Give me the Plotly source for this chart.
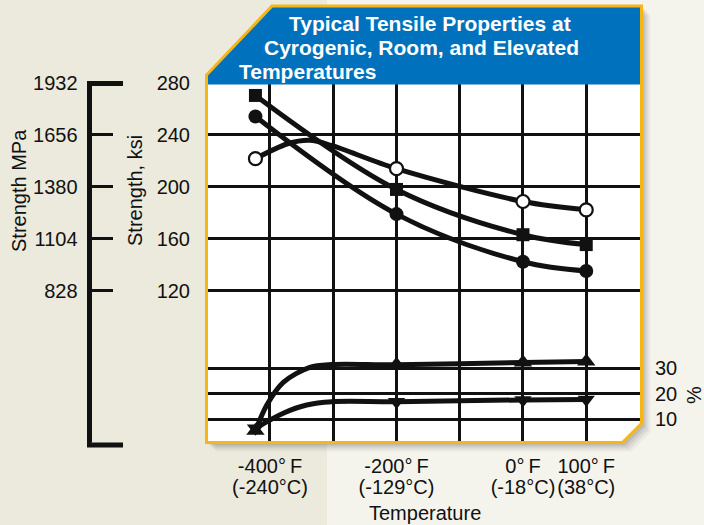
import plotly.graph_objects as go

# ---------------- data ----------------
temp_F = [-423, -200, 0, 100]
ksi_open = [221.7, 214.0, 188.7, 182.3]
ksi_square = [270.4, 198.0, 163.1, 155.5]
ksi_filled = [254.2, 179.0, 142.3, 135.2]
elong_up = [5.5, 31.4, 32.3, 32.7]
elong_down = [6.5, 16.9, 17.6, 17.8]

# points
curve_open_T = [-423, -372, -337, -303, -200, 0, 100]
curve_open_ksi = [221.7, 233.2, 235.8, 231.9, 214.0, 188.7, 182.3]
curve_up_T = [-423, -405, -379, -337, -302, -200, 0, 100]
curve_up_pct = [5.5, 15.6, 24.5, 30.4, 31.5, 31.4, 32.3, 32.7]
curve_down_T = [-423, -379, -342, -302, -200, 0, 100]
curve_down_pct = [6.5, 12.4, 15.6, 16.9, 16.9, 17.6, 17.8]

x_ticks = [-400, -300, -200, -100, 0, 100]
x_text_F = ["-400°\u2009F", "", "-200°\u2009F", "", "0°\u2009F", "100°\u2009F"]
x_text_C = ["(-240°C)", "", "(-129°C)", "", "(-18°C)", "(38°C)"]
ksi_ticks = [120, 160, 200, 240, 280]
mpa_ticks = [828, 1104, 1380, 1656, 1932]
pct_ticks = [10, 20, 30]

W, H = 704, 525
FONT = "Liberation Sans, Arial, sans-serif"
INK = "#111111"
BLUE = "#0071BC"
YELLOW = "#F7B518"

def px(x):
    return x / W

def py(y):
    return 1 - y / H

def path(pts):
    s = "M " + " L ".join(f"{px(a):.5f},{py(b):.5f}" for a, b in pts) + " Z"
    return s

KSI_RANGE = [3.4, 280]
fig = go.Figure()

LW = 5
fig.add_trace(go.Scatter(x=curve_open_T, y=curve_open_ksi, mode="lines",
                         line=dict(color=INK, width=LW, shape="spline", smoothing=0.9),
                         showlegend=False, hoverinfo="skip"))
fig.add_trace(go.Scatter(x=temp_F, y=ksi_square, mode="lines+markers",
                         line=dict(color=INK, width=LW, shape="spline", smoothing=1.0),
                         marker=dict(symbol="square", size=13, color=INK),
                         showlegend=False))
fig.add_trace(go.Scatter(x=temp_F, y=ksi_filled, mode="lines+markers",
                         line=dict(color=INK, width=LW, shape="spline", smoothing=1.0),
                         marker=dict(symbol="circle", size=14, color=INK),
                         showlegend=False))
fig.add_trace(go.Scatter(x=temp_F, y=ksi_open, mode="markers",
                         marker=dict(symbol="circle", size=13, color="white",
                                     line=dict(color=INK, width=2.2)),
                         showlegend=False))
fig.add_trace(go.Scatter(x=curve_up_T, y=curve_up_pct, mode="lines", yaxis="y2",
                         line=dict(color=INK, width=LW, shape="spline", smoothing=0.9),
                         showlegend=False, hoverinfo="skip"))
fig.add_trace(go.Scatter(x=curve_down_T, y=curve_down_pct, mode="lines", yaxis="y2",
                         line=dict(color=INK, width=LW, shape="spline", smoothing=0.9),
                         showlegend=False, hoverinfo="skip"))
fig.add_trace(go.Scatter(x=temp_F, y=elong_up, mode="markers", yaxis="y2",
                         marker=dict(symbol="triangle-up", size=16, color=INK),
                         showlegend=False))
fig.add_trace(go.Scatter(x=temp_F, y=elong_down, mode="markers", yaxis="y2",
                         marker=dict(symbol="triangle-down", size=15, color=INK),
                         showlegend=False))
# MPa scale uses the same data converted (invisible, only to host the axis)
fig.add_trace(go.Scatter(x=temp_F, y=[v * 6.9 for v in ksi_square], mode="markers",
                         yaxis="y3", marker=dict(opacity=0), showlegend=False,
                         hoverinfo="skip"))
fig.add_trace(go.Scatter(x=temp_F, y=ksi_square, mode="markers", xaxis="x2",
                         marker=dict(opacity=0), showlegend=False, hoverinfo="skip"))

XD = [px(208), px(640)]
YD = [py(442), py(83)]
tickfont = dict(family=FONT, size=20, color=INK)

fig.update_layout(
    width=W, height=H,
    margin=dict(l=0, r=0, t=0, b=0),
    template="none",
    paper_bgcolor="#EBEADC",
    plot_bgcolor="rgba(0,0,0,0)",
    showlegend=False,
    font=dict(family=FONT, size=20, color=INK),
    xaxis=dict(domain=XD, range=[-498, 185], tickvals=x_ticks, ticktext=x_text_F,
               showgrid=True, gridcolor=INK, gridwidth=3, zeroline=False,
               showline=False, ticks="", tickfont=tickfont, ticklabelstandoff=10,
               tickangle=0, anchor="y", automargin=False, fixedrange=True),
    xaxis2=dict(domain=XD, matches="x", overlaying="x", anchor="y", side="bottom",
                tickvals=x_ticks, ticktext=x_text_C, showgrid=False, zeroline=False,
                showline=False, ticks="", tickfont=tickfont, ticklabelstandoff=31,
                tickangle=0, automargin=False),
    yaxis=dict(domain=YD, range=KSI_RANGE, tickvals=ksi_ticks,
               ticktext=[str(v) for v in ksi_ticks],
               showgrid=True, gridcolor=INK, gridwidth=3, zeroline=False,
               showline=False, ticks="", tickfont=tickfont, ticklabelstandoff=17,
               anchor="x", automargin=False),
    yaxis2=dict(domain=YD, range=[1.1, 141.9], overlaying="y", side="right",
                anchor="x", tickvals=pct_ticks, ticktext=[str(v) for v in pct_ticks],
                showgrid=True, gridcolor=INK, gridwidth=3, zeroline=False,
                showline=False, ticks="", tickfont=tickfont, ticklabelstandoff=14,
                automargin=False),
    yaxis3=dict(domain=YD, range=[KSI_RANGE[0] * 6.9, KSI_RANGE[1] * 6.9],
                overlaying="y", anchor="free", position=px(89.3), side="left",
                tickvals=mpa_ticks, ticktext=[str(v) for v in mpa_ticks],
                showgrid=False, zeroline=False, showline=True, linecolor=INK,
                linewidth=4.5, ticks="inside", ticklen=21, tickwidth=3,
                tickcolor=INK, tickfont=tickfont, ticklabelstandoff=6,
                automargin=False),
)

panel = [(272, 6), (641.5, 6), (641.5, 423.5), (622.5, 442.5), (206.5, 442.5), (206.5, 75)]
shapes = []
# lighter background band
shapes.append(dict(type="rect", xref="paper", yref="paper", x0=px(327), x1=1, y0=0, y1=1,
                   fillcolor="#F5F4EC", line=dict(width=0), layer="below"))
# soft drop shadow
for off, op in [(9, 0.05), (7, 0.07), (5, 0.09), (3, 0.12)]:
    shapes.append(dict(type="path", xref="paper", yref="paper",
                       path=path([(a + off, b + off) for a, b in panel]),
                       fillcolor=f"rgba(60,60,50,{op})", line=dict(width=0), layer="below"))
# white plot panel
shapes.append(dict(type="path", xref="paper", yref="paper",
                   path=path([(207, 83), (641, 83), (641, 423.5), (622.5, 442), (207, 442)]),
                   fillcolor="white", line=dict(width=0), layer="below"))
# blue title banner
shapes.append(dict(type="path", xref="paper", yref="paper",
                   path=path([(272, 7), (641, 7), (641, 84.5), (207, 84.5), (207, 74)]),
                   fillcolor=BLUE, line=dict(width=0), layer="above"))
# yellow outline
shapes.append(dict(type="path", xref="paper", yref="paper", path=path(panel),
                   fillcolor="rgba(0,0,0,0)", line=dict(color=YELLOW, width=3), layer="above"))
# bracket end bars
for yb in (83.5, 445):
    shapes.append(dict(type="line", xref="paper", yref="paper", x0=px(87), x1=px(123),
                       y0=py(yb), y1=py(yb), line=dict(color=INK, width=5), layer="above"))
shapes.append(dict(type="line", xref="paper", yref="paper", x0=px(89.3), x1=px(89.3),
                   y0=py(440), y1=py(447), line=dict(color=INK, width=4.5), layer="above"))
fig.update_layout(shapes=shapes)

ann = []
tfont = dict(family=FONT, size=21, color="white")
ann.append(dict(text="<b>Typical Tensile Properties at</b>", x=px(430), y=py(23),
                xanchor="center", yanchor="middle", font=tfont))
ann.append(dict(text="<b>Cyrogenic, Room, and Elevated</b>", x=px(421), y=py(47),
                xanchor="center", yanchor="middle", font=tfont))
ann.append(dict(text="<b>Temperatures</b>", x=px(237), y=py(71),
                xanchor="left", yanchor="middle", font=tfont))
lfont = dict(family=FONT, size=20, color=INK)
ann.append(dict(text="Strength MPa", x=px(18.5), y=py(190.5), textangle=-90,
                xanchor="center", yanchor="middle", font=lfont))
ann.append(dict(text="Strength, ksi", x=px(135), y=py(191), textangle=-90,
                xanchor="center", yanchor="middle", font=lfont))
ann.append(dict(text="%", x=px(694), y=py(395), textangle=-90,
                xanchor="center", yanchor="middle", font=lfont))
ann.append(dict(text="Temperature", x=px(425), y=py(513),
                xanchor="center", yanchor="middle", font=dict(family=FONT, size=20, color=INK)))
for a in ann:
    a.update(xref="paper", yref="paper", showarrow=False)
fig.update_layout(annotations=ann)

fig.write_html(
    "out.html",
    config={"displayModeBar": False},
    post_script="document.body.style.margin='0';document.body.style.padding='0';"
                "document.body.style.overflow='hidden';"
                "document.documentElement.style.background='#EBEADC';",
)
